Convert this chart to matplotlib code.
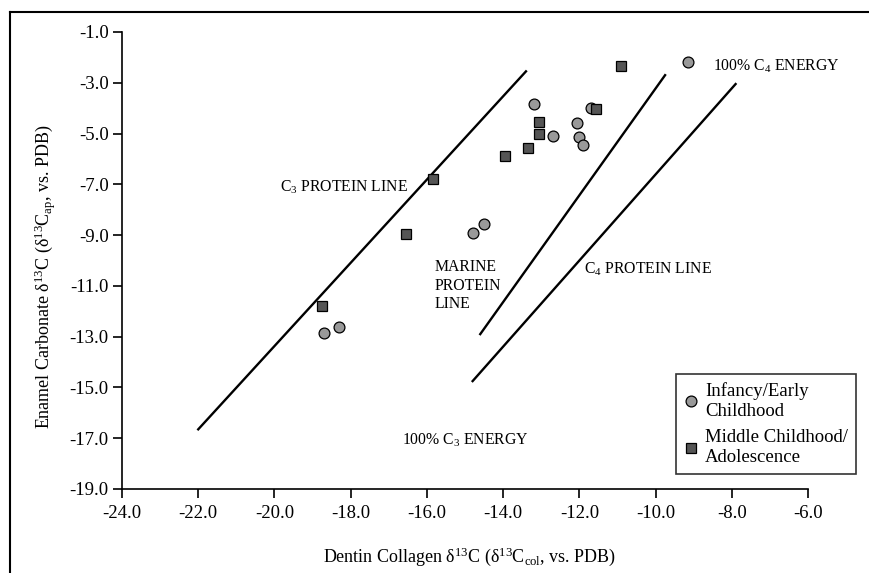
import numpy as np
import matplotlib
matplotlib.use("Agg")
import matplotlib.pyplot as plt
from matplotlib.lines import Line2D

plt.rcParams['font.family'] = ['Liberation Serif', 'DejaVu Serif']
plt.rcParams['mathtext.fontset'] = 'custom'
plt.rcParams['mathtext.rm'] = 'Liberation Serif'
plt.rcParams['mathtext.it'] = 'Liberation Serif'

# infancy / early childhood (circles)
infant_x = [-9.15, -13.2, -11.7, -12.05, -12.7, -12.0, -11.9, -14.5, -14.8, -18.7, -18.3]
infant_y = [-2.2, -3.85, -4.0, -4.6, -5.1, -5.15, -5.45, -8.55, -8.9, -12.85, -12.6]

# middle childhood / adolescence (squares)
middle_x = [-10.9, -11.55, -13.05, -13.05, -13.35, -13.95, -15.85, -16.55, -18.75]
middle_y = [-2.35, -4.05, -4.55, -5.0, -5.55, -5.9, -6.8, -8.95, -11.8]

# reference lines (start, end)
c3_line_x = [-22.0, -13.4]
c3_line_y = [-16.65, -2.55]
marine_line_x = [-14.6, -9.75]
marine_line_y = [-12.9, -2.7]
c4_line_x = [-14.8, -7.9]
c4_line_y = [-14.75, -3.05]

xticks = np.arange(-24, -5, 2)
yticks = np.arange(-19, 0, 2)

fig = plt.figure(figsize=(8.7, 5.73), dpi=100)
ax = fig.add_axes([122/870, 1-489/573, (808-122)/870, (489-32)/573])

ax.plot(c3_line_x, c3_line_y, color='black', lw=1.7)
ax.plot(marine_line_x, marine_line_y, color='black', lw=1.7)
ax.plot(c4_line_x, c4_line_y, color='black', lw=1.7)

ax.plot(infant_x, infant_y, 'o', ms=7.8, mfc='#999999', mec='black', mew=0.9,
        label='Infancy/Early\nChildhood', zorder=3)
ax.plot(middle_x, middle_y, 's', ms=7.2, mfc='#555555', mec='black', mew=0.9,
        label='Middle Childhood/\nAdolescence', zorder=3)

fs = 11.3
ax.text(-19.85, -7.1, r'C$_3$ PROTEIN LINE', fontsize=fs, va='center')
ax.text(-8.5, -2.35, r'100% C$_4$ ENERGY', fontsize=fs, va='center')
ax.text(-15.8, -11.0, 'MARINE\nPROTEIN\nLINE', fontsize=fs, va='center', linespacing=1.2)
ax.text(-11.88, -10.35, r'C$_4$ PROTEIN LINE', fontsize=fs, va='center')
ax.text(-16.65, -17.1, r'100% C$_3$ ENERGY', fontsize=fs, va='center')

ax.set_xlim(-24, -6)
ax.set_ylim(-19, -1)
ax.set_xticks(xticks)
ax.set_xticklabels(['%.1f' % v for v in xticks])
ax.set_yticks(yticks)
ax.set_yticklabels(['%.1f' % v for v in yticks])
ax.tick_params(direction='out', length=6.5, width=1.2, labelsize=13.5, pad=3)
ax.tick_params(axis='x', pad=5)
ax.spines['top'].set_visible(False)
ax.spines['right'].set_visible(False)
ax.spines['left'].set_linewidth(1.2)
ax.spines['bottom'].set_linewidth(1.2)

ax.set_xlabel('Dentin Collagen δ$^{13}$C (δ$^{13}$C$_{\\mathrm{col}}$, vs. PDB)', fontsize=13)
ax.set_ylabel('Enamel Carbonate δ$^{13}$C (δ$^{13}$C$_{\\mathrm{ap}}$, vs. PDB)', fontsize=13)
ax.xaxis.set_label_coords((470-122)/686, -(545-489)/457)
ax.yaxis.set_label_coords(-(122-58)/686, (489-277)/457)

leg = fig.legend(loc='upper left', bbox_to_anchor=(676/870, 1-374/573), fontsize=13.5,
                 frameon=True, fancybox=False, edgecolor='black', handlelength=0.7,
                 handletextpad=0.4, borderpad=0.45, labelspacing=0.5, markerscale=1.0,
                 borderaxespad=0)
leg.get_frame().set_linewidth(1.2)

# outer frame (left and top edges only visible)
fig.add_artist(Line2D([10/870, 10/870], [0, 1-12/573], color='black', lw=1.5))
fig.add_artist(Line2D([10/870, 1], [1-12/573, 1-12/573], color='black', lw=1.5))

fig.savefig('out.png', dpi=100)
